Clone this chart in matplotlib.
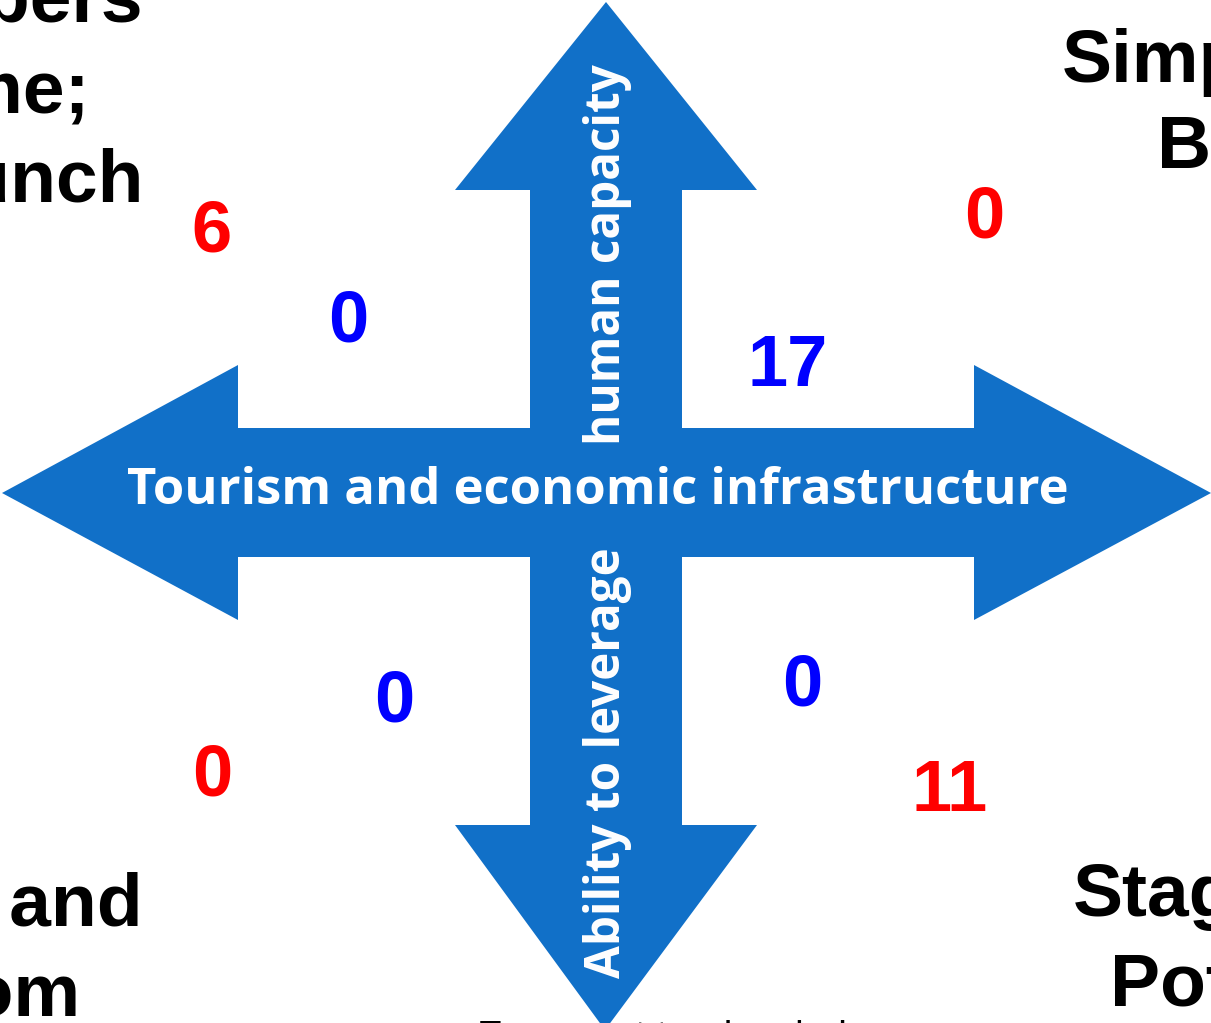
import matplotlib
matplotlib.use("Agg")
from matplotlib import pyplot as plt
from matplotlib.patches import Polygon

# quadrant counts and where they sit (baseline)
red_counts = [6, 0, 0, 11]
red_pos = [(212, 251), (984, 238), (212, 796), (950, 811)]
blue_counts = [0, 17, 0, 0]
blue_pos = [(348, 342), (788, 386), (394, 721), (802, 706)]

axis_h = 'Tourism and economic infrastructure'
axis_up = 'human capacity'
axis_down = 'Ability to leverage'

# corner labels (cut off by the page edge): text, x, baseline y, align
corner_lines = [
    ('Developers', 143, 22, 'right'),
    ('Time;', 90, 113, 'right'),
    ('Relaunch', 143, 202, 'right'),
    ('Simple', 1062, 82, 'left'),
    ('Be', 1157, 168, 'left'),
    ('Hidden and', 143, 926, 'right'),
    ('Bloom', 80, 1015, 'right'),
    ('Stage', 1073, 916, 'left'),
    ('Potential', 1110, 1005, 'left'),
]
bottom_text = 'Emergent tourism hub'

W, H = 1211, 1023
BLUE = '#1170c8'

fig = plt.figure(figsize=(W / 100, H / 100), dpi=100)
ax = fig.add_axes([0, 0, 1, 1])
ax.set_xlim(0, W)
ax.set_ylim(H, 0)
ax.axis('off')

# horizontal double arrow
h_arrow = [(2, 493), (238, 365), (238, 428), (974, 428), (974, 365), (1211, 493),
           (974, 620), (974, 557), (238, 557), (238, 620)]
ax.add_patch(Polygon(h_arrow, closed=True, color=BLUE, lw=0))
# vertical double arrow
v_arrow = [(606, 2), (757, 190), (682, 190), (682, 825), (757, 825), (605, 1030),
           (455, 825), (530, 825), (530, 190), (455, 190)]
ax.add_patch(Polygon(v_arrow, closed=True, color=BLUE, lw=0))

ax.text(598, 491, axis_h, color='white', fontsize=36.5, fontweight='bold',
        family='Open Sans', ha='center', va='center')
ax.text(608, 255, axis_up, color='white', fontsize=34.3, fontweight='bold',
        family='Open Sans', ha='center', va='center', rotation=90)
ax.text(607, 763, axis_down, color='white', fontsize=34.3, fontweight='bold',
        family='Open Sans', ha='center', va='center', rotation=90)

for v, (x, y) in zip(red_counts, red_pos):
    ax.text(x, y, str(v), color='#ff0000', fontsize=52, fontweight='bold',
            family='Liberation Sans', ha='center', va='baseline')
for v, (x, y) in zip(blue_counts, blue_pos):
    ax.text(x, y, str(v), color='#0000ff', fontsize=52, fontweight='bold',
            family='Liberation Sans', ha='center', va='baseline')

for s, x, y, ha in corner_lines:
    ax.text(x, y, s, color='black', fontsize=54, fontweight='bold',
            family='Liberation Sans', ha=ha, va='baseline')

ax.text(477, 1020, bottom_text, color='black', fontsize=28,
        family='Liberation Sans', ha='left', va='top')

fig.savefig('out.png', dpi=100)
